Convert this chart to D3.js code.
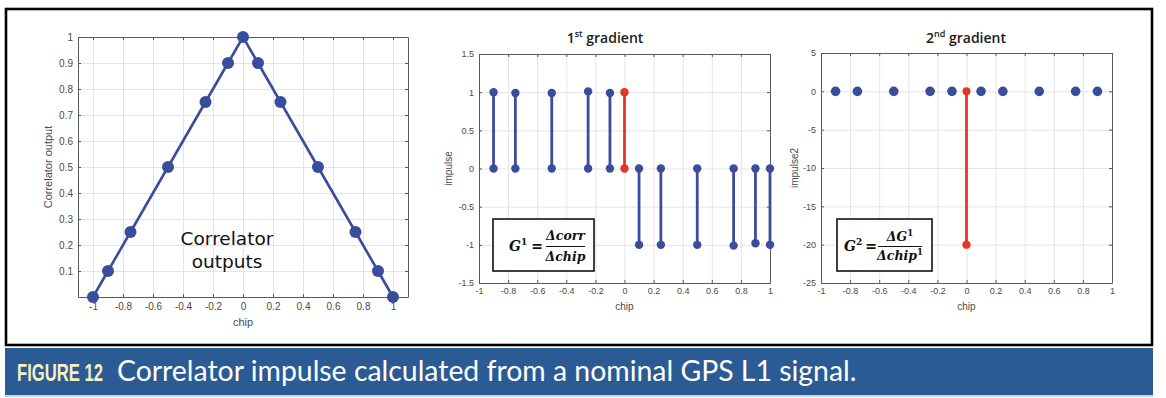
<!DOCTYPE html>
<html><head><meta charset="utf-8">
<script src="https://cdn.jsdelivr.net/npm/d3@7"></script>
<style>
html,body{margin:0;padding:0;background:#fff;}
svg{display:block;}
</style></head>
<body>
<svg id="c" width="1166" height="398"></svg>
<script>
// ---------- data ----------
const corrChip = [-1, -0.9, -0.75, -0.5, -0.25, -0.1, 0, 0.1, 0.25, 0.5, 0.75, 0.9, 1];
const corrOut  = [0, 0.1, 0.25, 0.5, 0.75, 0.9, 1, 0.9, 0.75, 0.5, 0.25, 0.1, 0];

const g1Chip = [-0.9, -0.75, -0.5, -0.25, -0.1, 0, 0.1, 0.25, 0.5, 0.75, 0.9, 1];
const g1Val  = [1, 0.99, 0.99, 1.01, 0.99, 1, -1, -1, -1, -1.01, -0.98, -1];

const g2Chip = [-0.9, -0.75, -0.5, -0.25, -0.1, 0, 0.1, 0.25, 0.5, 0.75, 0.9];
const g2Val  = [0, 0, 0, 0, 0, -20, 0, 0, 0, 0, 0];

const highlightChip = 0;

const leftXTicks = [-1, -0.8, -0.6, -0.4, -0.2, 0, 0.2, 0.4, 0.6, 0.8, 1];
const leftYTicks = [0.1, 0.2, 0.3, 0.4, 0.5, 0.6, 0.7, 0.8, 0.9, 1];
const chipTicks  = [-1, -0.8, -0.6, -0.4, -0.2, 0, 0.2, 0.4, 0.6, 0.8, 1];
const g1YTicks   = [-1.5, -1, -0.5, 0, 0.5, 1, 1.5];
const g2YTicks   = [-25, -20, -15, -10, -5, 0, 5];

const caption1 = "FIGURE 12";
const caption2 = "Correlator impulse calculated from a nominal GPS L1 signal.";

// ---------- drawing ----------
const svg = d3.select("#c");
const BLUE = "#3a4d9c", RED = "#e5352b";

svg.append("rect").attr("width",1166).attr("height",398).attr("fill","#fff");

function panel(o){
  const x = d3.scaleLinear().domain(o.xd).range([o.x0,o.x1]);
  const y = d3.scaleLinear().domain(o.yd).range([o.y1,o.y0]);
  const g = svg.append("g");
  const h = o.y1-o.y0, w = o.x1-o.x0;
  const fmt = d => String(d);
  // grid
  const gx = g.append("g").attr("transform",`translate(0,${o.y1})`)
    .call(d3.axisBottom(x).tickValues(o.xt).tickSize(-h).tickFormat(""));
  const gy = g.append("g").attr("transform",`translate(${o.x0},0)`)
    .call(d3.axisLeft(y).tickValues(o.yt).tickSize(-w).tickFormat(""));
  [gx,gy].forEach(a=>{a.select(".domain").remove(); a.selectAll("line").attr("stroke","#e4e4e4").attr("stroke-width",1);});
  // axes
  const ax = [
    g.append("g").attr("transform",`translate(0,${o.y1})`).call(d3.axisBottom(x).tickValues(o.xt).tickSize(-3).tickSizeOuter(0).tickPadding(o.xpad).tickFormat(fmt)),
    g.append("g").attr("transform",`translate(0,${o.y0})`).call(d3.axisTop(x).tickValues(o.xt).tickSize(-3).tickSizeOuter(0).tickFormat("")),
    g.append("g").attr("transform",`translate(${o.x0},0)`).call(d3.axisLeft(y).tickValues(o.yt).tickSize(-3).tickSizeOuter(0).tickPadding(o.ypad).tickFormat(fmt)),
    g.append("g").attr("transform",`translate(${o.x1},0)`).call(d3.axisRight(y).tickValues(o.yt).tickSize(-3).tickSizeOuter(0).tickFormat(""))
  ];
  ax.forEach(a=>{
    a.select(".domain").attr("stroke","#5a5a5a").attr("stroke-width",1);
    a.selectAll("line").attr("stroke","#5a5a5a");
    a.selectAll("text").attr("fill","#4a4a4a").style("font-family","'Liberation Sans',Arial,sans-serif").style("font-size",o.fs+"px");
  });
  // axis titles
  g.append("text").attr("x",(o.x0+o.x1)/2+(o.xlOff||0)).attr("y",o.xlY).attr("text-anchor","middle")
    .attr("fill","#4a4a4a").style("font-family","'Liberation Sans',Arial,sans-serif").style("font-size",(o.fs+1)+"px").text("chip");
  g.append("text").attr("transform",`translate(${o.ylX},${(o.y0+o.y1)/2}) rotate(-90)`).attr("text-anchor","middle")
    .attr("fill","#4a4a4a").style("font-family","'Liberation Sans',Arial,sans-serif").style("font-size",(o.fs+1)+"px").text(o.ylab);
  return {x,y,g};
}

// ----- left panel -----
const L = panel({x0:78,x1:408,y0:37,y1:297,xd:[-1.1,1.1],yd:[0,1],xt:leftXTicks,yt:leftYTicks,
  fs:10,xpad:6,ypad:5,xlY:326,ylX:52,ylab:"Correlator output"});
const line = d3.line().x((d,i)=>L.x(corrChip[i])).y(d=>L.y(d));
L.g.append("path").attr("d",line(corrOut)).attr("fill","none").attr("stroke",BLUE).attr("stroke-width",2.6);
L.g.selectAll("circle.p").data(corrOut).join("circle").attr("class","p")
  .attr("cx",(d,i)=>L.x(corrChip[i])).attr("cy",d=>L.y(d)).attr("r",6).attr("fill",BLUE);
L.g.append("text").attr("x",227).attr("y",245).attr("text-anchor","middle").attr("fill","#111")
  .style("font-family","'DejaVu Sans',sans-serif").style("font-size","18.5px").text("Correlator");
L.g.append("text").attr("x",227).attr("y",268).attr("text-anchor","middle").attr("fill","#111")
  .style("font-family","'DejaVu Sans',sans-serif").style("font-size","18.5px").text("outputs");

// ----- middle panel -----
const M = panel({x0:479,x1:770,y0:54,y1:283,xd:[-1,1],yd:[-1.5,1.5],xt:chipTicks,yt:g1YTicks,
  fs:9,xpad:5,ypad:5,xlY:310,ylX:452,ylab:"impulse"});
const stems1 = g1Val.map((v,i)=>({c:g1Chip[i],v}));
M.g.selectAll("line.s").data(stems1).join("line").attr("class","s")
  .attr("x1",d=>M.x(d.c)).attr("x2",d=>M.x(d.c)).attr("y1",M.y(0)).attr("y2",d=>M.y(d.v))
  .attr("stroke",d=>d.c===highlightChip?RED:BLUE).attr("stroke-width",2.8);
M.g.selectAll("circle.b").data(stems1).join("circle").attr("class","b")
  .attr("cx",d=>M.x(d.c)).attr("cy",M.y(0)).attr("r",4.2).attr("fill",d=>d.c===highlightChip?RED:BLUE);
M.g.selectAll("circle.t").data(stems1).join("circle").attr("class","t")
  .attr("cx",d=>M.x(d.c)).attr("cy",d=>M.y(d.v)).attr("r",4.2).attr("fill",d=>d.c===highlightChip?RED:BLUE);

// ----- right panel -----
const R = panel({x0:821,x1:1112,y0:53,y1:283,xd:[-1,1],yd:[-25,5],xt:chipTicks,yt:g2YTicks,
  fs:9,xpad:5,ypad:5,xlY:310,ylX:798,ylab:"impulse2"});
const stems2 = g2Val.map((v,i)=>({c:g2Chip[i],v}));
R.g.selectAll("line.s").data(stems2.filter(d=>d.v!==0)).join("line").attr("class","s")
  .attr("x1",d=>R.x(d.c)).attr("x2",d=>R.x(d.c)).attr("y1",R.y(0)).attr("y2",d=>R.y(d.v))
  .attr("stroke",d=>d.c===highlightChip?RED:BLUE).attr("stroke-width",2.8);
R.g.selectAll("circle.b").data(stems2).join("circle").attr("class","b")
  .attr("cx",d=>R.x(d.c)).attr("cy",R.y(0)).attr("r",d=>d.c===highlightChip?4:4.8).attr("fill",d=>d.c===highlightChip?RED:BLUE);
R.g.selectAll("circle.t").data(stems2.filter(d=>d.v!==0)).join("circle").attr("class","t")
  .attr("cx",d=>R.x(d.c)).attr("cy",d=>R.y(d.v)).attr("r",4.2).attr("fill",d=>d.c===highlightChip?RED:BLUE);

// ----- titles -----
function title(cx, main, sup, rest){
  const t = svg.append("text").attr("x",cx).attr("y",43).attr("text-anchor","middle").attr("fill","#1a1a1a")
    .style("font-family","'Open Sans',sans-serif").style("font-size","14px").style("font-weight","600");
  t.append("tspan").text(main);
  t.append("tspan").attr("dy",-6).style("font-size","9px").text(sup);
  t.append("tspan").attr("dy",6).text(rest);
}
title(605,"1","st"," gradient");
title(966,"2","nd"," gradient");

// ----- formula boxes -----
const FF = "'DejaVu Serif','Liberation Serif',serif";
function fbox(bx,by,bw,bh){
  svg.append("rect").attr("x",bx).attr("y",by).attr("width",bw).attr("height",bh)
    .attr("fill","#fff").attr("stroke","#111").attr("stroke-width",1.6);
}
function ftext(x,y,size,anchor){
  return svg.append("text").attr("x",x).attr("y",y).attr("text-anchor",anchor||"start").attr("fill","#111")
    .style("font-family",FF).style("font-style","italic").style("font-weight","bold").style("font-size",size+"px");
}
// G1
fbox(493,219,101,52);
let t = ftext(509,251,14); t.append("tspan").text("G"); t.append("tspan").attr("dy",-6).style("font-size","9px").style("font-style","normal").text("1");
ftext(537,251,14,"middle").style("font-style","normal").text("=");
svg.append("line").attr("x1",546).attr("x2",585).attr("y1",246.5).attr("y2",246.5).attr("stroke","#111").attr("stroke-width",1.2);
ftext(565.5,240,12.5,"middle").text("Δcorr");
ftext(565.5,261,12.5,"middle").text("Δchip");
// G2
fbox(837,219,95,52);
t = ftext(844,251,14); t.append("tspan").text("G"); t.append("tspan").attr("dy",-6).style("font-size","9px").style("font-style","normal").text("2");
ftext(871,251,14,"middle").style("font-style","normal").text("=");
svg.append("line").attr("x1",878).attr("x2",922).attr("y1",246.5).attr("y2",246.5).attr("stroke","#111").attr("stroke-width",1.2);
t = ftext(900,241,12.5,"middle"); t.append("tspan").text("ΔG"); t.append("tspan").attr("dy",-5).style("font-size","8.5px").style("font-style","normal").text("1");
t = ftext(900,260,12.5,"middle"); t.append("tspan").text("Δchip"); t.append("tspan").attr("dy",-5).style("font-size","8.5px").style("font-style","normal").text("1");

// ----- frame & caption -----
svg.append("rect").attr("x",6).attr("y",9).attr("width",1146).attr("height",336)
  .attr("fill","none").attr("stroke","#000").attr("stroke-width",2.6);
svg.append("rect").attr("x",5).attr("y",348).attr("width",1148).attr("height",47).attr("fill","#2a5b95");
svg.append("rect").attr("x",5).attr("y",395).attr("width",1148).attr("height",2).attr("fill","#c4d6ea");
function fitText(x, y, targetW, txt, family, size, weight, fill){
  const g = svg.append("g");
  const tx = g.append("text").attr("x",0).attr("y",0).attr("fill",fill)
    .style("font-family",family).style("font-weight",weight).style("font-size",size+"px").text(txt);
  const nat = tx.node().getComputedTextLength() || targetW;
  g.attr("transform",`translate(${x},${y}) scale(${targetW/nat},1)`);
}
fitText(17,381,86,caption1,"'Liberation Sans Narrow','Liberation Sans',sans-serif",23,"bold","#f6f0c2");
fitText(117,381,740,caption2,"Lato,'Open Sans',sans-serif",28,"normal","#fff");
</script>
</body></html>
